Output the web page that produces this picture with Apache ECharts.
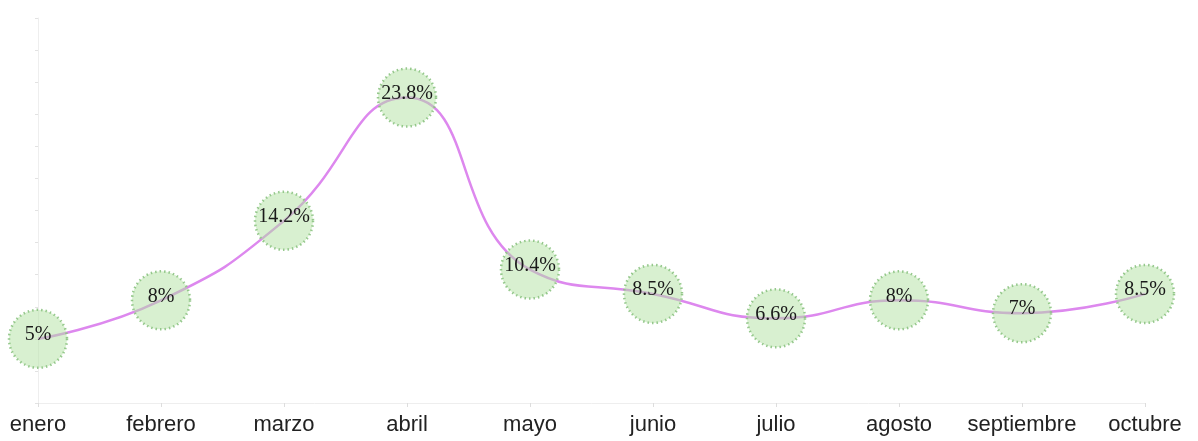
<!DOCTYPE html>
<html>
<head>
<meta charset="utf-8">
<script src="https://cdn.jsdelivr.net/npm/echarts@6/dist/echarts.min.js"></script>
<style>html,body{margin:0;padding:0;background:#fff;}#c{width:1198px;height:441px;}</style>
</head>
<body>
<div id="c"></div>
<script>
var categories = ['enero','febrero','marzo','abril','mayo','junio','julio','agosto','septiembre','octubre'];
var values = [5, 8, 14.2, 23.8, 10.4, 8.5, 6.6, 8, 7, 8.5];

var chart = echarts.init(document.getElementById('c'));
chart.setOption({
  animation: false,
  grid: {left: 38, right: 53, top: 18, bottom: 38},
  xAxis: {
    type: 'category',
    data: categories,
    boundaryGap: false,
    axisLine: {lineStyle: {color: '#eeeeee', width: 1}},
    axisTick: {show: true, length: 4, interval: 0, lineStyle: {color: '#dddddd'}},
    axisLabel: {color: '#222', fontSize: 22, interval: 0, fontFamily: 'Liberation Sans, Arial, sans-serif', margin: 11},
    splitLine: {show: false}
  },
  yAxis: {
    type: 'value',
    min: 0, max: 30, interval: 2.5,
    axisLine: {show: true, lineStyle: {color: '#eeeeee', width: 1}},
    axisTick: {show: true, length: 3, inside: false, lineStyle: {color: '#e2e2e2'}},
    axisLabel: {show: false},
    splitLine: {show: false}
  },
  series: [{
    type: 'line',
    data: values,
    smooth: true,
    symbol: 'circle',
    symbolSize: 58,
    lineStyle: {color: '#dd88ee', width: 2.5},
    itemStyle: {
      color: 'rgba(177,225,161,0.5)',
      borderColor: 'rgba(140,195,130,0.9)',
      borderWidth: 2.5,
      borderType: [1.5, 3]
    },
    label: {
      show: true,
      position: 'inside',
      offset: [0, -4],
      formatter: function (p) { return p.value + '%'; },
      color: '#1a1a1a',
      fontSize: 20,
      fontFamily: 'Liberation Serif, Times New Roman, serif'
    },
    emphasis: {disabled: true}
  }]
});
</script>
</body>
</html>
